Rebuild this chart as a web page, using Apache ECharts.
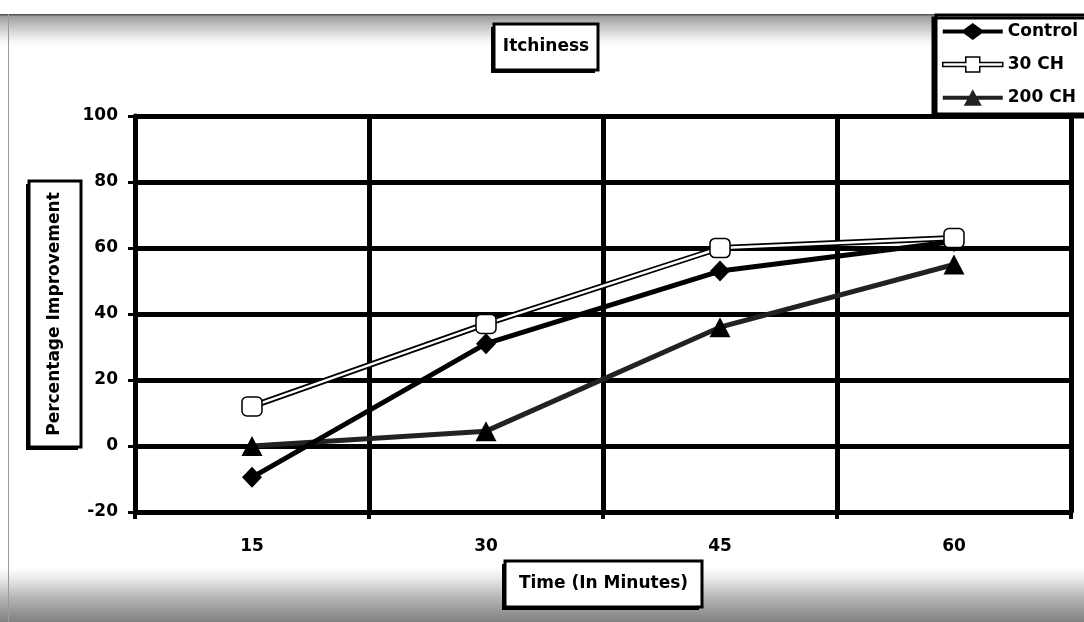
<!DOCTYPE html>
<html>
<head>
<meta charset="utf-8">
<title>Itchiness</title>
<script src="https://cdn.jsdelivr.net/npm/echarts@6/dist/echarts.min.js"></script>
<style>
  html, body { margin: 0; padding: 0; }
  body {
    width: 1084px; height: 622px; overflow: hidden; position: relative;
    background: linear-gradient(to bottom,
      #ffffff 0px, #ffffff 14px, #555555 14px, #555555 15px,
      #9c9c9c 16px, #c4c4c4 26px, #f4f4f4 40px, #ffffff 46px,
      #ffffff 568px, #e6e6e6 580px, #b0b0b0 600px, #808080 622px);
  }
  #frame { position: absolute; left: 8px; top: 14px; width: 1px; height: 608px; background: #9a9a9a; }
  #chart { position: absolute; left: 0; top: 0; width: 1084px; height: 622px; }
</style>
</head>
<body>
<div id="frame"></div>
<div id="chart"></div>
<script>
// Minutes after application
const categories = ['15', '30', '45', '60'];
// Percentage improvement per group
const control = [-9.5, 31, 53, 62];
const ch30 = [12, 37, 60, 63];
const ch200 = [0, 4.5, 36, 55];
// Y axis range
const yTicks = { min: -20, max: 100, step: 20 };

const FONT = '"DejaVu Sans", "Liberation Sans", Arial, sans-serif';
const chart = echarts.init(document.getElementById('chart'), null, { renderer: 'canvas' });

// Framed label box with a dark offset shadow (bottom-left)
function boxed(x, y, w, h, text, rotate) {
  const cx = x + w / 2, cy = y + h / 2;
  return [
    { type: 'rect', shape: { x: x - 3, y: y + 3, width: w, height: h }, style: { fill: '#000' }, z: 100 },
    { type: 'rect', shape: { x: x, y: y, width: w, height: h }, style: { fill: '#fff', stroke: '#000', lineWidth: 3 }, z: 101 },
    { type: 'text', x: cx, y: cy, rotation: rotate ? Math.PI / 2 : 0, z: 102,
      style: { text: text, fill: '#000', font: 'bold 17px ' + FONT, align: 'center', verticalAlign: 'middle' } }
  ];
}

const option = {
  backgroundColor: 'transparent',
  animation: false,
  grid: { left: 135, top: 116, width: 936, height: 396 },
  legend: {
    orient: 'vertical',
    left: 936, top: 15,
    padding: [8, 40, 8, 6],
    itemWidth: 60, itemHeight: 18, itemGap: 16,
    backgroundColor: '#fff', borderColor: '#000', borderWidth: 3,
    shadowColor: '#000', shadowOffsetX: -3, shadowOffsetY: 3, shadowBlur: 0,
    textStyle: { color: '#000', fontFamily: FONT, fontWeight: 'bold', fontSize: 17 },
    data: [
      { name: 'Control', icon: 'path://M0,6.5H21L30,0L39,6.5H60V10.5H39L30,17L21,10.5H0Z',
        itemStyle: { color: '#000', borderWidth: 0 } },
      { name: '30 CH', icon: 'path://M0,6.5H23V1H37V6.5H60V10.5H37V16H23V10.5H0Z',
        itemStyle: { color: '#fff', borderColor: '#000', borderWidth: 1.5 } },
      { name: '200 CH', icon: 'path://M0,6.5H26.5L30,0L33.5,6.5H60V10.5H35.7L39,16.5H21L24.3,10.5H0Z',
        itemStyle: { color: '#222', borderWidth: 0 } }
    ]
  },
  xAxis: {
    type: 'category',
    data: categories,
    boundaryGap: true,
    axisLine: { onZero: false, lineStyle: { color: '#000', width: 5 } },
    axisTick: { show: true, length: 7, lineStyle: { color: '#000', width: 4 } },
    axisLabel: { color: '#000', fontFamily: FONT, fontWeight: 'bold', fontSize: 17, margin: 26 },
    splitLine: { show: true, lineStyle: { color: '#000', width: 5 } }
  },
  yAxis: {
    type: 'value',
    min: yTicks.min, max: yTicks.max, interval: yTicks.step,
    axisLine: { show: true, lineStyle: { color: '#000', width: 5 } },
    axisTick: { show: true, length: 7, lineStyle: { color: '#000', width: 3 } },
    axisLabel: { color: '#000', fontFamily: FONT, fontWeight: 'bold', fontSize: 17, margin: 17 },
    splitLine: { show: true, lineStyle: { color: '#000', width: 5 } }
  },
  series: [
    {
      // dark casing under the hollow 30 CH line
      name: '30 CH casing', type: 'line', data: ch30, silent: true,
      symbol: 'none', lineStyle: { color: '#000', width: 6 }, z: 3
    },
    {
      name: '200 CH', type: 'line', data: ch200,
      symbol: 'triangle', symbolSize: [21, 20],
      lineStyle: { color: '#222', width: 5 },
      itemStyle: { color: '#000' }, z: 4
    },
    {
      name: 'Control', type: 'line', data: control,
      symbol: 'diamond', symbolSize: [20, 21],
      lineStyle: { color: '#000', width: 5 },
      itemStyle: { color: '#000' }, z: 5
    },
    {
      name: '30 CH', type: 'line', data: ch30,
      symbol: 'roundRect', symbolSize: [20, 19],
      lineStyle: { color: '#fff', width: 2.5 },
      itemStyle: { color: '#fff', borderColor: '#000', borderWidth: 1.5 }, z: 6
    }
  ],
  graphic: [].concat(
    boxed(494, 24, 104, 46, 'Itchiness', false),
    boxed(29, 181, 52, 266, 'Percentage Improvement', true),
    boxed(505, 561, 197, 46, 'Time (In Minutes)', false)
  )
};

chart.setOption(option);
</script>
</body>
</html>
